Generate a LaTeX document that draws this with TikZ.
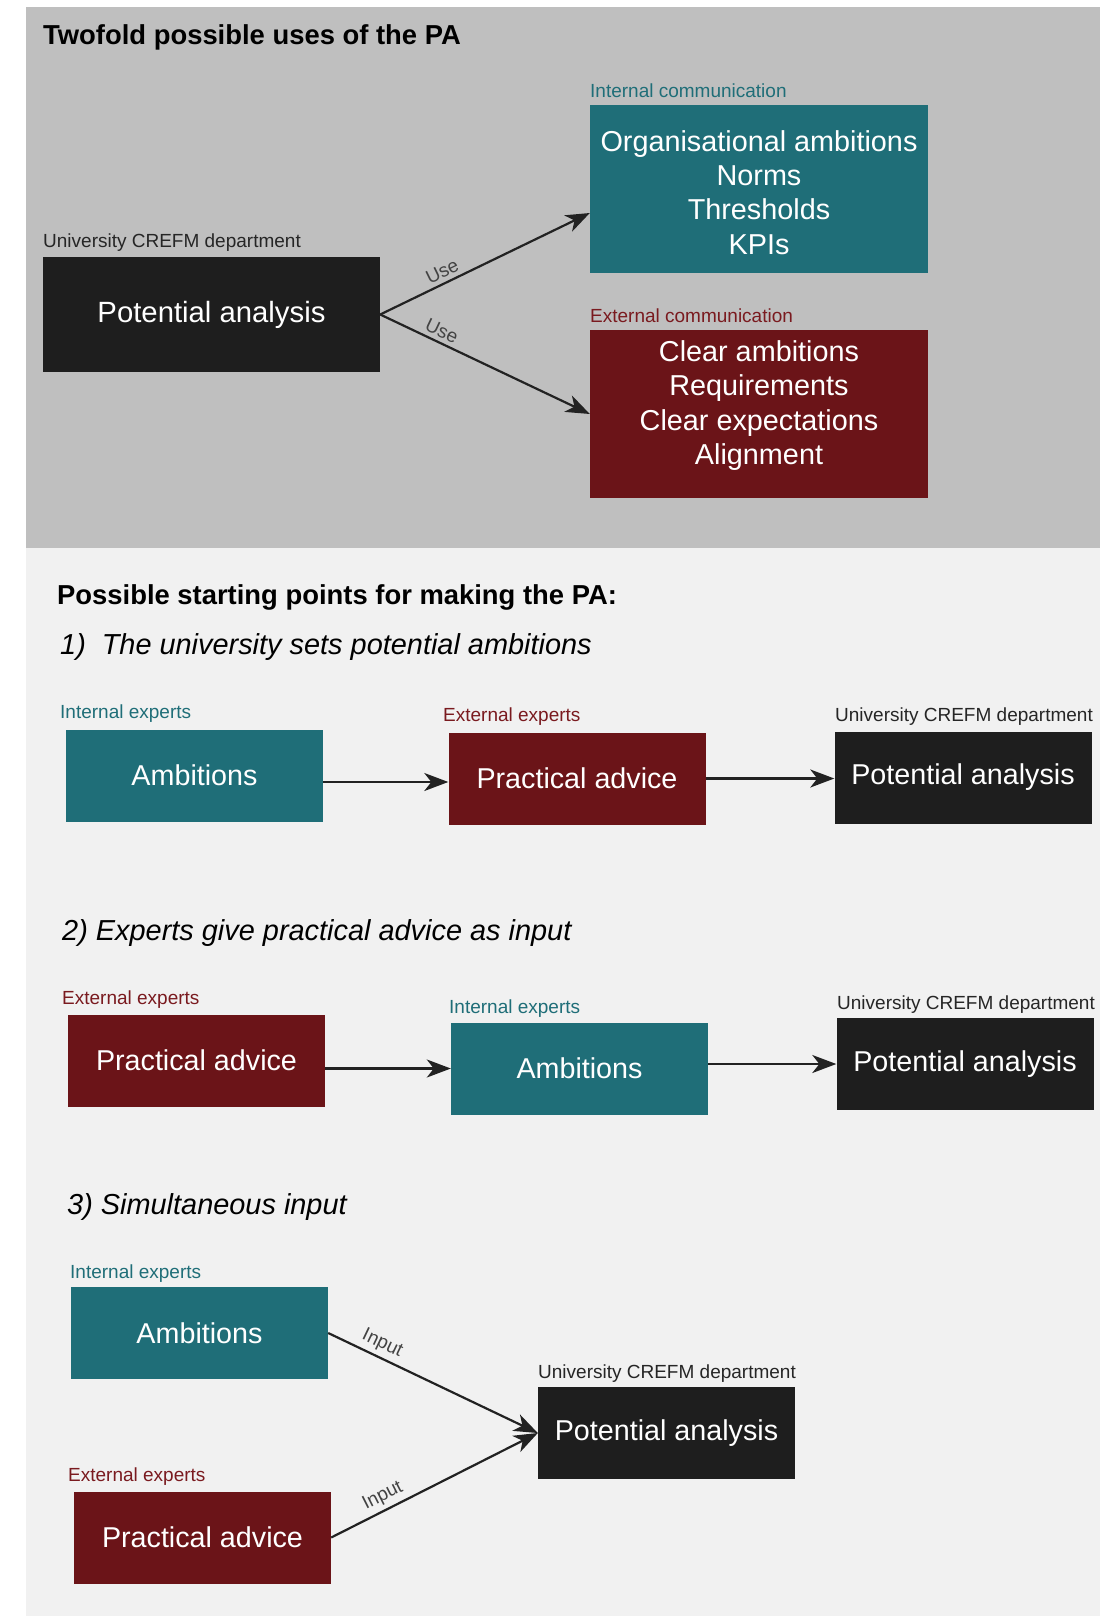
\documentclass[tikz,border=0pt]{standalone}
\usepackage{fontspec}
\setmainfont{Liberation Sans}
\usetikzlibrary{arrows.meta,calc}
\definecolor{tealc}{HTML}{1F6E78}
\definecolor{redc}{HTML}{6B1418}
\definecolor{redt}{HTML}{7A1A1F}
\definecolor{blk}{HTML}{1E1E1E}
\definecolor{graybg}{HTML}{BFBFBF}
\definecolor{lightbg}{HTML}{F1F1F1}
\definecolor{arrc}{HTML}{222222}
\begin{document}
\begin{tikzpicture}[x=1pt,y=-1pt,
 box/.style={minimum width=257pt,minimum height=92pt,inner sep=0pt,text=white,font=\fontsize{28.7}{34.4}\selectfont,align=center},
 tealbox/.style={box,fill=tealc},
 redbox/.style={box,fill=redc},
 blackbox/.style={box,fill=blk},
 boxtext/.style={inner sep=0pt,text=white,font=\fontsize{28.8}{34.4}\selectfont,align=center},
 lbl/.style={anchor=base west,inner sep=0pt,font=\fontsize{19}{22}\selectfont},
 tlbl/.style={lbl,text=tealc},
 rlbl/.style={lbl,text=redt},
 klbl/.style={lbl,text=black!85},
 arr/.style={draw=arrc,line width=2.2pt,-{Stealth[length=24pt,width=18pt,inset=7pt]}},
 elbl/.style={sloped,above,font=\fontsize{19}{22}\selectfont,text=arrc!85,inner sep=4pt},
 head/.style={anchor=base west,inner sep=0pt,font=\bfseries\fontsize{27.4}{32}\selectfont},
 ital/.style={anchor=base west,inner sep=0pt,font=\itshape\fontsize{28.9}{32}\selectfont}]
\useasboundingbox (0,0) rectangle (1103,1616);
\fill[white] (0,0) rectangle (1103,1616);
\fill[graybg] (26,7) rectangle (1100,548);
\fill[lightbg] (26,548) rectangle (1100,1616);

% ---------- top panel ----------
\node[head] (t1) at (43,45) {Twofold possible uses of the PA};
\node[klbl] (l0) at (43,247) {University CREFM department};
\node[blackbox,minimum width=337pt,minimum height=115pt,font=\fontsize{29.3}{34}\selectfont] (pa0) at (211.5,314.5) {Potential analysis};
\node[tlbl] (lic) at (590,97.5) {Internal communication};
\node[tealbox,minimum width=338pt,minimum height=168pt] (ic) at (759,189) {};
\node[boxtext] (ictext) at (759,192.5) {Organisational ambitions\\Norms\\Thresholds\\KPIs};
\node[rlbl] (lec) at (590,322) {External communication};
\node[redbox,minimum width=338pt,minimum height=168pt] (ec) at (759,414) {};
\node[boxtext] (ectext) at (759,405.5) {Clear ambitions\\Requirements\\Clear expectations\\Alignment};
\draw[arr] (pa0.east) -- node[elbl,pos=0.32]{Use} ($(ic.west)+(0,24)$);
\draw[arr] (pa0.east) -- node[elbl,pos=0.27]{Use} (ec.west);

% ---------- lower panel ----------
\node[head] (t2) at (57,604) {Possible starting points for making the PA:};
\node[ital] (h1) at (60,654) {1)\hspace{0.55em}The university sets potential ambitions};

\node[tlbl] (l11) at (60,718) {Internal experts};
\node[tealbox] (amb1) at (194.5,775.5) {Ambitions};
\node[rlbl] (l12) at (443,721) {External experts};
\node[redbox] (prac1) at (577,778.5) {Practical advice};
\node[klbl] (l13) at (835,721) {University CREFM department};
\node[blackbox] (pa1) at (963,777.5) {Potential analysis};
\coordinate (a1s) at ($(amb1.east)+(0,6.5)$);
\draw[arr] (a1s) -- (a1s -| prac1.west);
\draw[arr] (prac1.east) -- (prac1.east -| pa1.west);

\node[ital] (h2) at (62,940) {2) Experts give practical advice as input};
\node[rlbl] (l21) at (62,1004) {External experts};
\node[redbox] (prac2) at (196.5,1060.5) {Practical advice};
\node[tlbl] (l22) at (449,1013) {Internal experts};
\node[tealbox] (amb2) at (579.5,1068.5) {Ambitions};
\node[klbl] (l23) at (837,1009) {University CREFM department};
\node[blackbox] (pa2) at (965,1064) {Potential analysis};
\draw[arr] (amb2.west -| prac2.east) -- (amb2.west);
\draw[arr] (pa2.west -| amb2.east) -- (pa2.west);

\node[ital] (h3) at (67,1214) {3) Simultaneous input};
\node[tlbl] (l31) at (70,1278) {Internal experts};
\node[tealbox] (amb3) at (199.5,1333) {Ambitions};
\node[rlbl] (l32) at (68,1481) {External experts};
\node[redbox] (prac3) at (202.5,1537.5) {Practical advice};
\node[klbl] (l33) at (538,1378) {University CREFM department};
\node[blackbox] (pa3) at (666.5,1433) {Potential analysis};
\draw[arr] (amb3.east) -- node[elbl,pos=0.23]{Input} (pa3.west);
\draw[arr] (prac3.east) -- node[elbl,pos=0.28]{Input} (pa3.west);
\end{tikzpicture}
\end{document}
